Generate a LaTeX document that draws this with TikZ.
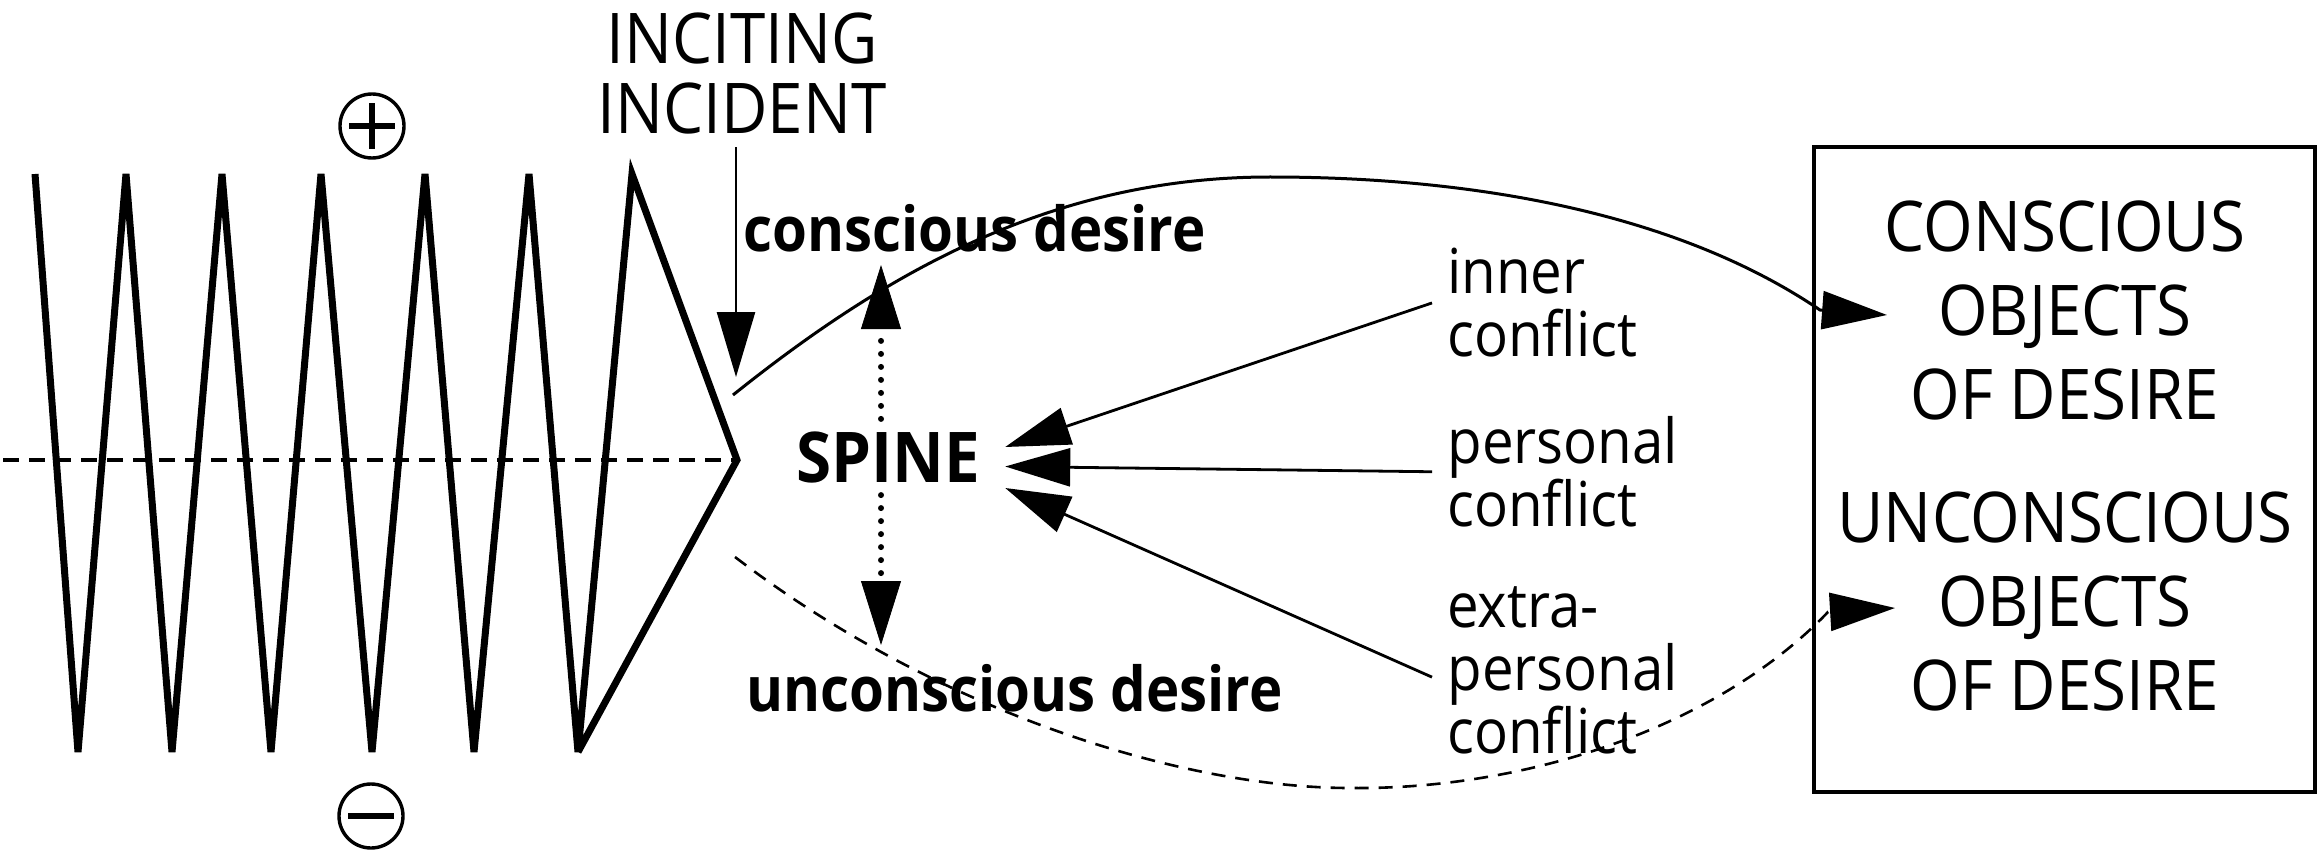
\documentclass[tikz,border=0pt]{standalone}
\usepackage{fontspec}
\setmainfont{Open Sans}[FakeStretch=0.91]
\usetikzlibrary{arrows.meta}
\begin{document}
\begin{tikzpicture}[x=0.5pt,y=-0.5pt,
  zig/.style={line width=3.5pt},
  axisline/.style={line width=1.9pt, dash pattern=on 8pt off 5pt},
  capsA/.style={font=\fontsize{35pt}{35pt}\selectfont, align=center},
  capsB/.style={font=\fontsize{35pt}{42pt}\selectfont, align=center, inner sep=0pt},
  boldlbl/.style={font=\bfseries\fontsize{31pt}{31.5pt}\selectfont, inner sep=0pt},
  lbl/.style={font=\fontsize{31pt}{31.5pt}\selectfont, align=left, inner xsep=7.5pt, inner ysep=0pt},
  arrowhead/.style={-{Triangle[length=32.5pt,width=19pt]}},
  thinarrow/.style={line width=1.4pt, arrowhead},
  dotarrow/.style={line width=3pt, line cap=round, dash pattern=on 0pt off 6.5pt,
     -{Triangle[length=32pt,width=20pt,line width=0.4pt]}},
  signcircle/.style={draw, circle, line width=1.7pt, minimum size=32pt, inner sep=0pt},
  signbar/.style={line width=2.6pt}
]
\fill[white] (0,0) rectangle (2323,861);
\useasboundingbox (0,0) rectangle (2323,861);

% axis and zigzag
\coordinate (axl) at (3,460);
\coordinate (ztip) at (737,460);
\draw[axisline] (axl) -- (ztip);
\draw[zig] (35,174) -- (78,752) -- (126,174) -- (172,752) -- (222,174) -- (271,752)
  -- (321,174) -- (372,752) -- (425,174) -- (474,752) -- (529,174) -- (578,752)
  -- (632,174) -- (ztip) -- (578,752);

% plus / minus
\node[signcircle] (plus) at (372,126) {};
\draw[signbar] ([xshift=-11.5pt]plus.center) -- ([xshift=11.5pt]plus.center);
\draw[signbar] ([yshift=-11.5pt]plus.center) -- ([yshift=11.5pt]plus.center);
\node[signcircle] (minus) at (371,816) {};
\draw[signbar] ([xshift=-11.5pt]minus.center) -- ([xshift=11.5pt]minus.center);

% inciting incident
\node[capsA, anchor=north, inner sep=6.5pt] (inc) at (742,-1) {INCITING\\INCIDENT};
\coordinate (itip) at (736,377);
\draw[line width=1.3pt, arrowhead] (inc.south -| itip) -- (itip);

% desire labels
\node[boldlbl, anchor=base west] (cdes) at (743,252) {conscious desire};
\node[boldlbl, anchor=base west] (udes) at (746,711) {unconscious desire};

% spine
\node[font=\bfseries\fontsize{35pt}{35pt}\selectfont, inner xsep=12.5pt, inner ysep=6pt, anchor=base] (spine) at (888,482) {SPINE};
\coordinate (dup) at (881,265);
\coordinate (ddown) at (881,645);
\draw[dotarrow] (spine.north -| dup) -- (dup);
\draw[dotarrow] (spine.south -| ddown) -- (ddown);

% conflicts
\node[lbl, anchor=north west] (inner) at (1432,248) {inner\\conflict};
\node[lbl, anchor=north west] (personal) at (1432,416) {personal\\conflict};
\node[lbl, anchor=north west] (extra) at (1432,586) {extra-\\personal\\conflict};
\draw[thinarrow] (inner.west) -- ([yshift=5pt]spine.east);
\draw[thinarrow] (personal.west) -- ([yshift=-4.75pt]spine.east);
\draw[thinarrow] ([yshift=-3.5pt]extra.west) -- ([yshift=-15.5pt]spine.east);

% box
\node[draw, line width=1.7pt, minimum width=250.5pt, minimum height=322.5pt, inner sep=0pt] (box) at (2064.5,469.5) {};
\node[capsB, anchor=north] (cobj) at (2065,200) {CONSCIOUS\\OBJECTS\\OF DESIRE};
\node[capsB, anchor=north] (uobj) at (2065,491) {UNCONSCIOUS\\OBJECTS\\OF DESIRE};

% desire curves
\coordinate (cstart) at (733,395);
\coordinate (cend) at (1887,315);
\draw[line width=1.5pt, arrowhead] (cstart) .. controls (883,275) and (1050,177) .. (1270,177)
  .. controls (1480,177) and (1680,215) .. (1820,310) -- (cend);
\coordinate (ustart) at (735,557);
\coordinate (uend) at (1895,608);
\draw[line width=1.3pt, dash pattern=on 7pt off 5pt, arrowhead] (ustart) .. controls (935,710) and (1180,788) .. (1350,788)
  .. controls (1530,790) and (1720,725) .. (1828,612) -- (uend);
\end{tikzpicture}
\end{document}
